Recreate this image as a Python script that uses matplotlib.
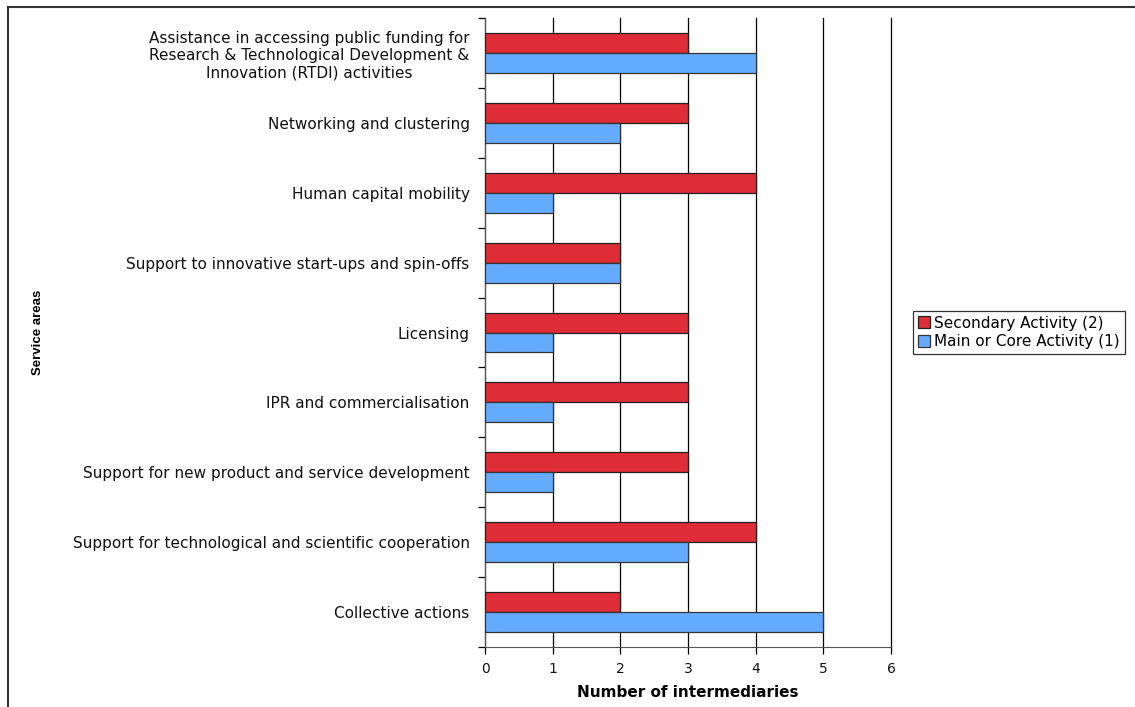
import matplotlib
matplotlib.use('Agg')
import matplotlib.pyplot as plt
from matplotlib.patches import Rectangle
import numpy as np

## Data, top category first
categories = [
    'Assistance in accessing public funding for\nResearch & Technological Development &\nInnovation (RTDI) activities',
    'Networking and clustering',
    'Human capital mobility',
    'Support to innovative start-ups and spin-offs',
    'Licensing',
    'IPR and commercialisation',
    'Support for new product and service development',
    'Support for technological and scientific cooperation',
    'Collective actions',
]
secondary = [3, 3, 4, 2, 3, 3, 3, 4, 2]
main_core = [4, 2, 1, 2, 1, 1, 1, 3, 5]
x_ticks = [0, 1, 2, 3, 4, 5, 6]

plt.rcParams['font.family'] = ['DejaVu Sans']

fig = plt.figure(figsize=(11.35, 7.07), dpi=100)
W, H = 1135, 707
ax = fig.add_axes([485 / W, 1 - 647 / H, (891 - 485) / W, (647 - 18) / H])

n = len(categories)
pos = np.arange(n)[::-1]
bh = 0.286

ax.barh(pos + bh / 2, secondary, height=bh, color='#DE2D37', edgecolor='#222222',
        linewidth=0.9, label='Secondary Activity (2)', zorder=3)
ax.barh(pos - bh / 2, main_core, height=bh, color='#64AAFF', edgecolor='#333333',
        linewidth=0.9, label='Main or Core Activity (1)', zorder=3)

ax.set_xlim(0, 6)
ax.set_ylim(-0.5, n - 0.5)
ax.set_xticks(x_ticks)
ax.tick_params(axis='x', length=5, width=0.9, labelsize=10, pad=6, direction='out',
               labelcolor='#111111')

## major ticks at category boundaries, labels on minor ticks
ax.set_yticks(np.arange(-0.5, n, 1.0))
ax.set_yticklabels([])
ax.set_yticks(pos, minor=True)
ax.set_yticklabels(categories, minor=True, fontsize=11, multialignment='center',
                   linespacing=1.2, color='#111111')
ax.tick_params(axis='y', which='major', length=5, width=0.9, direction='out')
ax.tick_params(axis='y', which='minor', length=0, pad=11)

ax.grid(True, axis='x', color='black', linewidth=0.9, zorder=0)
for gl in ax.get_xgridlines():
    gl.set_clip_on(False)
for s in ['top', 'right']:
    ax.spines[s].set_visible(False)
ax.spines['left'].set_color('#555555')
ax.spines['bottom'].set_color('#555555')

ax.set_xlabel('Number of intermediaries', fontsize=11, fontweight='bold', labelpad=6)
fig.text(38 / W, 1 - 332 / H, 'Service areas', rotation=90, fontsize=9.5,
         fontweight='bold', ha='center', va='center', family='Liberation Sans')

h, l = ax.get_legend_handles_labels()
leg = fig.legend(h, l, loc='upper left', bbox_to_anchor=(913 / W, 1 - 311 / H),
                 fontsize=11, frameon=True, fancybox=False, edgecolor='black',
                 handlelength=0.8, handleheight=0.8, handletextpad=0.3,
                 borderpad=0.3, labelspacing=0.25, borderaxespad=0)
leg.get_frame().set_linewidth(0.9)

## outer chart frame
fig.patches.append(Rectangle((8 / W, -0.05), 1.1, 1 - 7 / H + 0.05,
                             transform=fig.transFigure, fill=False,
                             edgecolor='#333333', linewidth=1.5, clip_on=False))

fig.savefig('out.png', dpi=100)
